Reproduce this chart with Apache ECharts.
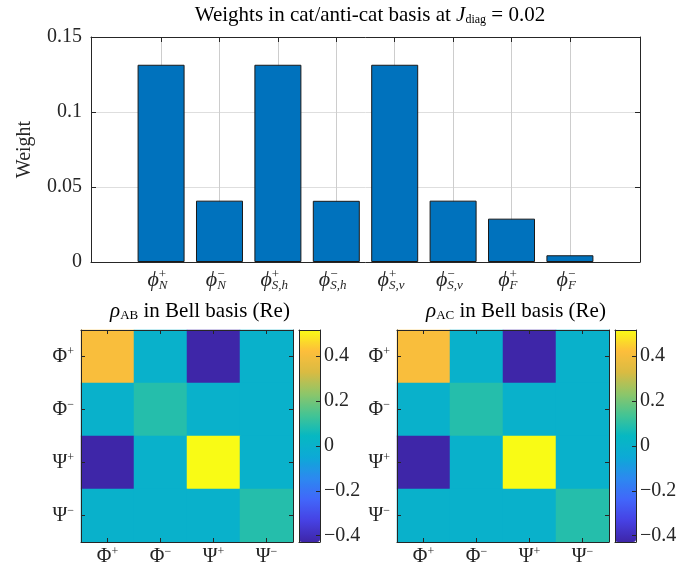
<!DOCTYPE html>
<html>
<head>
<meta charset="utf-8">
<script src="https://cdn.jsdelivr.net/npm/echarts@6/dist/echarts.min.js"></script>
<style>
  html, body { margin: 0; padding: 0; background: #fff; }
  #chart { width: 694px; height: 574px; }
</style>
</head>
<body>
<div id="chart"></div>
<script>
const serif = 'Liberation Serif';
const ink = '#262626';

// weights in the cat / anti-cat basis
const catSup = ['+', '\u2212', '+', '\u2212', '+', '\u2212', '+', '\u2212'];
const catSub = ['N', 'N', 'S,h', 'S,h', 'S,v', 'S,v', 'F', 'F'];
const catPos = [1, 2, 3, 4, 5, 6, 7, 8];
const weights = [0.1315, 0.0409, 0.1315, 0.0408, 0.1315, 0.0409, 0.0289, 0.0045];

// Bell basis labels
const bellBase = ['\u03A6', '\u03A6', '\u03A8', '\u03A8'];
const bellSign = ['+', '\u2212', '+', '\u2212'];

// real part of the reduced density matrices (rows/cols: Φ+, Φ−, Ψ+, Ψ−)
const rhoAB = [
  [0.41, 0, -0.428, 0],
  [0, 0.09, 0, 0],
  [-0.428, 0, 0.516, 0],
  [0, 0, 0, 0.09],
];
const rhoAC = [
  [0.41, 0, -0.428, 0],
  [0, 0.09, 0, 0],
  [-0.428, 0, 0.516, 0],
  [0, 0, 0, 0.09],
];
const cbMin = -0.428;
const cbMax = 0.516;
const cbTicks = [-0.4, -0.2, 0, 0.2, 0.4];

const parula = ['#3E26A8', '#4641E3', '#4166FA', '#2C89F0', '#0DA9D6', '#06B8C2',
  '#45C493', '#8EC669', '#D9BB42', '#FDBE3B', '#F9FB15'];

const txt = (size, extra) => Object.assign({ fontFamily: serif, fontSize: size, color: ink }, extra || {});
const hide = (s) => Object.assign({}, s, { color: 'rgba(0,0,0,0)' });
const fmtNum = (v) => (v < 0 ? '\u2212' + Math.abs(v) : String(v));

const phiStyle = txt(22, { fontStyle: 'italic' });
const supStyle = txt(13, { padding: [0, 0, 12, 0] });
const subStyle = txt(13, { fontStyle: 'italic', padding: [10, 0, 0, 0] });
const barRich = {
  p: phiStyle, hp: hide(phiStyle),
  sp: supStyle, hsp: hide(supStyle),
  sb: subStyle, hsb: hide(subStyle),
};
const bellRich = {
  b: txt(20),
  s: txt(12, { padding: [0, 0, 10, 0] }),
};
const bellLabel = (i) => '{b|' + bellBase[i] + '}{s|' + bellSign[i] + '}';

const grids = [];
const xAxes = [];
const yAxes = [];
const series = [];
const visualMaps = [];

const line = { show: true, onZero: false, lineStyle: { color: ink, width: 1 } };
const noLine = { show: false, onZero: false };

// ---- bar chart ----
grids.push({ left: 91, top: 37, width: 549, height: 225 });
const barX = { type: 'value', gridIndex: 0, min: -0.2, max: 9.2 };
xAxes.push(Object.assign({}, barX, {
  position: 'bottom',
  axisLine: line,
  axisTick: { show: true, inside: true, length: 5, customValues: catPos, lineStyle: { color: ink } },
  axisLabel: {
    show: true, margin: 6, customValues: catPos, rich: barRich,
    formatter: (v) => { const i = Math.round(v) - 1; return '{p|\u03D5}{sp|' + catSup[i] + '}{hsb|' + catSub[i] + '}'; },
  },
  splitLine: { show: true, lineStyle: { color: '#cdcdcd', width: 1 } },
}));
xAxes.push(Object.assign({}, barX, {
  position: 'bottom',
  axisLine: noLine, axisTick: { show: false, customValues: catPos },
  axisLabel: {
    show: true, margin: 6, customValues: catPos, rich: barRich,
    formatter: (v) => { const i = Math.round(v) - 1; return '{hp|\u03D5}{sb|' + catSub[i] + '}{hsp|' + catSup[i] + '}'; },
  },
  splitLine: { show: false },
}));
xAxes.push(Object.assign({}, barX, {
  position: 'top', z: 10,
  axisLine: line,
  axisTick: { show: true, inside: true, length: 5, customValues: catPos, lineStyle: { color: ink } },
  axisLabel: { show: false }, splitLine: { show: false },
}));
const barY = { type: 'value', gridIndex: 0, min: 0, max: 0.15, interval: 0.05 };
yAxes.push(Object.assign({}, barY, {
  position: 'left',
  name: 'Weight', nameLocation: 'middle', nameGap: 56, nameTextStyle: txt(20),
  axisLine: line,
  axisTick: { show: true, inside: true, length: 5, lineStyle: { color: ink } },
  axisLabel: { show: true, margin: 9, ...txt(20) },
  splitLine: { show: true, lineStyle: { color: '#dedede', width: 1 } },
}));
yAxes.push(Object.assign({}, barY, {
  position: 'right', z: 10,
  axisLine: line,
  axisTick: { show: true, inside: true, length: 5, lineStyle: { color: ink } },
  axisLabel: { show: false }, splitLine: { show: false },
}));
series.push({
  type: 'bar', xAxisIndex: 0, yAxisIndex: 0, barWidth: 47, z: 5,
  itemStyle: { color: '#0072BD', borderColor: '#1a1a1a', borderWidth: 1 },
  data: catPos.map((p, i) => [p, weights[i]]),
  silent: true,
});

// ---- heatmap + colorbar panels ----
function addPanel(rho, left, cbLeft) {
  const g = grids.length;
  grids.push({ left: left, top: 330, width: 212, height: 212 });
  const cats = bellBase.map((b, i) => i);
  const hx = { type: 'category', gridIndex: g, data: cats, z: 10, splitLine: { show: false } };
  const hy = { type: 'category', gridIndex: g, data: cats, inverse: true, z: 10, splitLine: { show: false } };
  const tick = { show: true, inside: true, alignWithLabel: true, interval: 0, length: 4, lineStyle: { color: ink } };
  const xi = xAxes.length;
  xAxes.push(Object.assign({}, hx, { position: 'bottom', axisLine: line, axisTick: tick,
    axisLabel: { show: true, interval: 0, margin: 4, rich: bellRich, formatter: (v) => bellLabel(+v) } }));
  xAxes.push(Object.assign({}, hx, { position: 'top', axisLine: line, axisTick: tick, axisLabel: { show: false } }));
  const yi = yAxes.length;
  yAxes.push(Object.assign({}, hy, { position: 'left', axisLine: line, axisTick: tick,
    axisLabel: { show: true, interval: 0, margin: 7, rich: bellRich, formatter: (v) => bellLabel(+v) } }));
  yAxes.push(Object.assign({}, hy, { position: 'right', axisLine: line, axisTick: tick, axisLabel: { show: false } }));
  const data = [];
  rho.forEach((row, r) => row.forEach((val, c) => data.push([c, r, val])));
  const si = series.length;
  series.push({ type: 'heatmap', xAxisIndex: xi, yAxisIndex: yi, data: data, silent: true,
    itemStyle: { borderWidth: 0 } });

  // colorbar frame and tick axis
  const cg = grids.length;
  grids.push({ left: cbLeft, top: 330, width: 21, height: 212 });
  const frameX = { type: 'value', gridIndex: cg, min: 0, max: 1, z: 10, axisLine: line,
    axisTick: { show: false }, axisLabel: { show: false }, splitLine: { show: false } };
  xAxes.push(Object.assign({}, frameX, { position: 'bottom' }));
  xAxes.push(Object.assign({}, frameX, { position: 'top' }));
  const cy = { type: 'value', gridIndex: cg, min: cbMin, max: cbMax, z: 10, axisLine: line, splitLine: { show: false } };
  yAxes.push(Object.assign({}, cy, { position: 'left', axisTick: { show: false }, axisLabel: { show: false } }));
  yAxes.push(Object.assign({}, cy, { position: 'right',
    axisTick: { show: true, inside: true, length: 4, customValues: cbTicks, lineStyle: { color: ink } },
    axisLabel: { show: true, margin: 4, customValues: cbTicks, formatter: fmtNum, ...txt(20) } }));

  visualMaps.push({
    type: 'continuous', seriesIndex: si, min: cbMin, max: cbMax,
    inRange: { color: parula }, calculable: false, hoverLink: false,
    left: cbLeft, top: 330, itemWidth: 21, itemHeight: 212, padding: 0, text: null,
  });
}
addPanel(rhoAB, 81, 299);
addPanel(rhoAC, 397, 615);

const titleStyle = (subKey, subSize) => {
  const rich = { it: txt(21, { color: '#000', fontStyle: 'italic' }) };
  rich[subKey] = txt(subSize, { color: '#000', padding: [9, 0, 0, 0] });
  return Object.assign(txt(21, { color: '#000', fontWeight: 'normal' }), { rich: rich });
};
const titles = [
  {
    text: 'Weights in cat/anti-cat basis at {it|J}{d|diag} = 0.02',
    left: 370, top: 5, textAlign: 'center', padding: 0,
    textStyle: titleStyle('d', 12),
  },
  {
    text: '{it|\u03C1}{s|AB} in Bell basis (Re)',
    left: 200, top: 300, textAlign: 'center', padding: 0,
    textStyle: titleStyle('s', 13),
  },
  {
    text: '{it|\u03C1}{s|AC} in Bell basis (Re)',
    left: 516, top: 300, textAlign: 'center', padding: 0,
    textStyle: titleStyle('s', 13),
  },
];

const chart = echarts.init(document.getElementById('chart'));
chart.setOption({
  animation: false,
  backgroundColor: '#fff',
  textStyle: { fontFamily: serif },
  title: titles,
  grid: grids,
  xAxis: xAxes,
  yAxis: yAxes,
  visualMap: visualMaps,
  series: series,
});
</script>
</body>
</html>
